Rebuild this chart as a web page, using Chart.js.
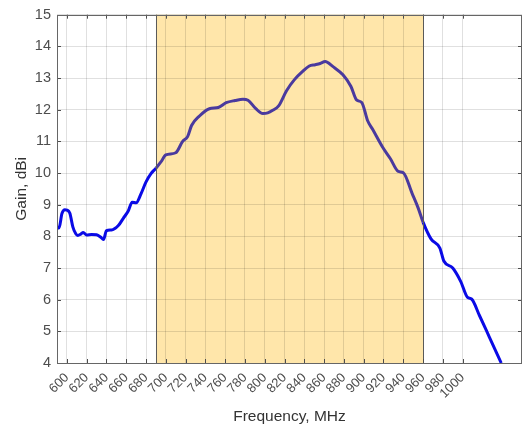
<!DOCTYPE html>
<html>
<head>
<meta charset="utf-8">
<script src="https://cdn.jsdelivr.net/npm/chart.js@4"></script>
<style>
html, body { margin: 0; padding: 0; background: #fff; }
#wrap { width: 524px; height: 428px; }
</style>
</head>
<body>
<div id="wrap"><canvas id="gainChart"></canvas></div>
<script>
const freq = [590, 592, 595, 598, 600, 603, 606, 609, 611, 614, 616.5, 620, 625, 630, 634, 637, 640, 645, 652, 657, 662, 666, 670, 675, 680, 685, 690, 695, 700, 710, 717, 722, 726, 734, 744, 753, 761, 770, 778, 783, 791, 798, 803, 808, 814, 822, 830, 838, 845, 851, 856, 861, 869, 879, 887, 893, 898, 904, 909, 919, 927, 935, 940, 949, 955, 960, 968, 977, 981, 990, 998, 1005, 1009, 1017, 1027, 1039];
const gain = [8.3, 8.26, 8.72, 8.84, 8.83, 8.73, 8.3, 8.08, 8.03, 8.07, 8.12, 8.04, 8.06, 8.05, 7.98, 7.9, 8.18, 8.2, 8.34, 8.57, 8.8, 9.08, 9.06, 9.35, 9.72, 9.98, 10.15, 10.35, 10.57, 10.64, 11.0, 11.15, 11.5, 11.8, 12.03, 12.07, 12.22, 12.29, 12.33, 12.3, 12.03, 11.88, 11.9, 11.98, 12.12, 12.6, 12.95, 13.2, 13.38, 13.42, 13.46, 13.52, 13.36, 13.1, 12.74, 12.3, 12.23, 11.65, 11.38, 10.82, 10.45, 10.05, 10.01, 9.35, 8.9, 8.45, 7.92, 7.63, 7.22, 7.0, 6.58, 6.07, 6.02, 5.5, 4.82, 4.0];
const xTicks = [600, 620, 640, 660, 680, 700, 720, 740, 760, 780, 800, 820, 840, 860, 880, 900, 920, 940, 960, 980, 1000];
const yTicks = [4, 5, 6, 7, 8, 9, 10, 11, 12, 13, 14, 15];
const band = [690, 960];

const inBand = (v) => v >= band[0] && v <= band[1];

// shaded band under the grid, box and inward ticks on top
const bandPlugin = {
    id: "band",
    beforeDraw(chart) {
        const { ctx, chartArea: a, scales: { x } } = chart;
        const x0 = x.getPixelForValue(band[0]);
        const x1 = x.getPixelForValue(band[1]);
        ctx.save();
        ctx.fillStyle = "#ffe6aa";
        ctx.fillRect(x0, a.top, x1 - x0, a.bottom - a.top);
        ctx.restore();
    },
    afterDraw(chart) {
        const { ctx, chartArea: a, scales: { x, y } } = chart;
        ctx.save();
        ctx.lineWidth = 1;
        ctx.strokeStyle = "#5a5a5a";
        for (const b of band) {
            const px = Math.round(x.getPixelForValue(b)) + 0.5;
            ctx.beginPath();
            ctx.moveTo(px, a.top);
            ctx.lineTo(px, a.bottom);
            ctx.stroke();
        }
        ctx.strokeStyle = "#4d4d4d";
        ctx.beginPath();
        for (const t of xTicks) {
            const px = Math.round(x.getPixelForValue(t)) + 0.5;
            ctx.moveTo(px, a.bottom);
            ctx.lineTo(px, a.bottom - 4);
            ctx.moveTo(px, a.top);
            ctx.lineTo(px, a.top + 4);
        }
        for (const t of yTicks) {
            const py = Math.round(y.getPixelForValue(t)) + 0.5;
            ctx.moveTo(a.left, py);
            ctx.lineTo(a.left + 4, py);
            ctx.moveTo(a.right, py);
            ctx.lineTo(a.right - 4, py);
        }
        ctx.stroke();
        ctx.strokeStyle = "#666";
        ctx.strokeRect(Math.round(a.left) + 0.5, Math.round(a.top) + 0.5,
            Math.round(a.right - a.left) - 1, Math.round(a.bottom - a.top));
        ctx.restore();
    }
};

const ctx = document.getElementById("gainChart").getContext("2d");
const myChart = new Chart(ctx, {
    type: "line",
    data: {
        datasets: [
            {
                label: "Gain",
                data: freq.map((f, i) => ({ x: f, y: gain[i] })),
                borderColor: "#0a0ae6",
                borderWidth: 3,
                pointRadius: 0,
                cubicInterpolationMode: "monotone",
                segment: {
                    borderColor: (c) => inBand((c.p0.parsed.x + c.p1.parsed.x) / 2) ? "#4a3a9e" : "#0a0ae6",
                },
            },
        ],
    },
    options: {
        responsive: true,
        maintainAspectRatio: false,
        animation: false,
        layout: { padding: { left: 0, right: 2, top: 11, bottom: 0 } },
        plugins: {
            legend: { display: false },
            tooltip: { enabled: false },
        },
        scales: {
            x: {
                type: "linear",
                min: 590,
                max: 1060,
                afterBuildTicks: (s) => { s.ticks = xTicks.map((v) => ({ value: v })); },
                afterFit: (s) => { s.height = 65; },
                grid: { color: "rgba(0,0,0,0.12)", drawTicks: false },
                border: { display: false },
                ticks: {
                    autoSkip: false,
                    maxRotation: 45,
                    minRotation: 45,
                    padding: 7,
                    color: "#4d4d4d",
                    font: { family: "Liberation Sans", size: 13 },
                    callback: (v) => String(v),
                },
                title: {
                    display: true,
                    text: "Frequency, MHz",
                    color: "#333",
                    font: { family: "Liberation Sans", size: 15.5 },
                    padding: { top: 0, bottom: 2 },
                },
            },
            y: {
                min: 4,
                max: 15,
                afterBuildTicks: (s) => { s.ticks = yTicks.map((v) => ({ value: v })); },
                afterFit: (s) => { s.width = 57; },
                grid: { color: "rgba(0,0,0,0.12)", drawTicks: false },
                border: { display: false },
                ticks: {
                    padding: 6,
                    color: "#4d4d4d",
                    font: { family: "Liberation Sans", size: 14.5 },
                },
                title: {
                    display: true,
                    text: "Gain, dBi",
                    color: "#333",
                    font: { family: "Liberation Sans", size: 15.5 },
                    padding: { top: 12, bottom: 0 },
                },
            },
        },
    },
    plugins: [bandPlugin],
});
</script>
</body>
</html>
